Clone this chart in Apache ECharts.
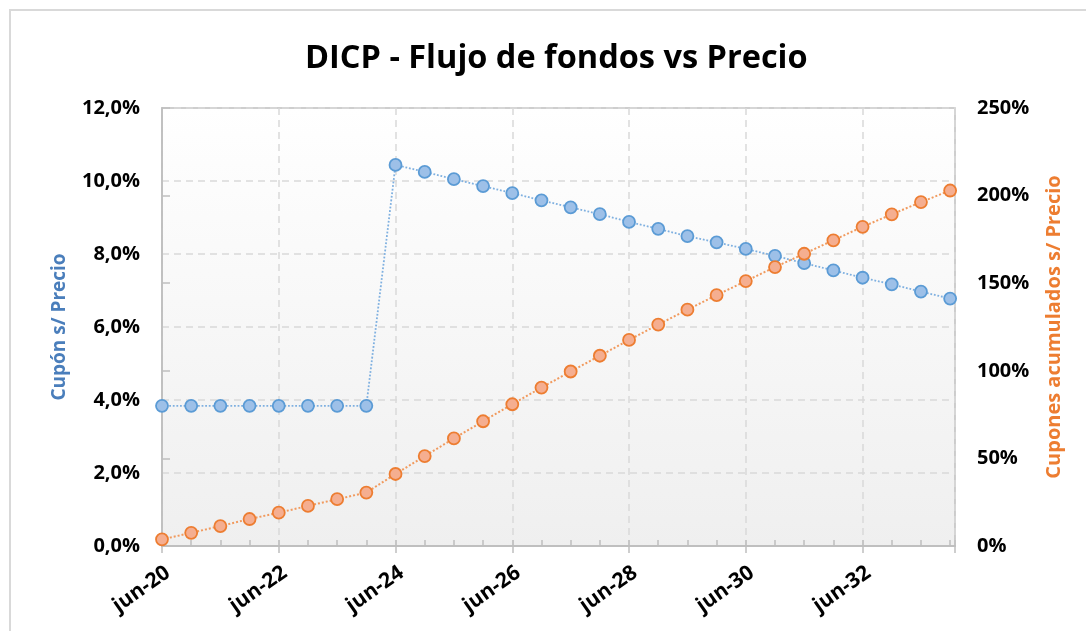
<!DOCTYPE html>
<html>
<head>
<meta charset="utf-8">
<script src="https://cdn.jsdelivr.net/npm/echarts@6/dist/echarts.min.js"></script>
<style>html,body{margin:0;padding:0;background:#fff}#c{width:1086px;height:631px}</style>
</head>
<body>
<div id="c"></div>
<script>
const fechas = ['jun-20','dic-20','jun-21','dic-21','jun-22','dic-22','jun-23','dic-23','jun-24','dic-24','jun-25','dic-25','jun-26','dic-26','jun-27','dic-27','jun-28','dic-28','jun-29','dic-29','jun-30','dic-30','jun-31','dic-31','jun-32','dic-32','jun-33','dic-33'];
const cuponSPrecio = [3.84,3.84,3.84,3.84,3.84,3.84,3.84,3.84,10.44,10.25,10.05,9.86,9.67,9.47,9.28,9.09,8.88,8.69,8.49,8.32,8.14,7.95,7.75,7.55,7.35,7.17,6.97,6.78];
const cuponesAcum = [3.8,7.5,11.4,15.4,19.0,22.9,26.7,30.5,41.1,51.3,61.4,71.2,80.9,90.4,99.6,108.6,117.6,126.4,134.9,143.2,151.2,159.2,166.8,174.5,182.2,189.3,196.3,202.9];
const leftTicks = {min:0, max:12, interval:2};
const rightTicks = {min:0, max:250, interval:50};

const MONTHS_PER_STEP = 6;
const FONT = 'Open Sans';
const toXY = arr => arr.map((v,i)=>[i*MONTHS_PER_STEP, v]);

const chart = echarts.init(document.getElementById('c'), null, {renderer:'canvas'});
chart.setOption({
  animation:false,
  backgroundColor:'#ffffff',
  textStyle:{fontFamily:FONT},
  graphic:[{type:'rect', shape:{x:10,y:10,width:1100,height:700}, style:{fill:'none', stroke:'#d9d9d9', lineWidth:2}, z:-1}],
  title:{text:'DICP - Flujo de fondos vs Precio', left:300, top:37,
    textStyle:{fontFamily:FONT, fontSize:32.5, fontWeight:'bold', color:'#000'}},
  grid:{left:162, top:108, right:131, bottom:85, show:true, borderColor:'#bfbfbf', borderWidth:1.5,
    backgroundColor:new echarts.graphic.LinearGradient(0,0,0,1,[{offset:0,color:'#ffffff'},{offset:1,color:'#efefef'}])},
  xAxis:[{
    type:'value', min:0, max:163, interval:24,
    axisLine:{show:true, lineStyle:{color:'#bfbfbf', width:2}},
    axisTick:{show:true, length:7, lineStyle:{color:'#bfbfbf', width:1.5}},
    splitLine:{show:true, lineStyle:{color:'#d9d9d9', type:[7,5], width:1.5}},
    axisLabel:{rotate:35, margin:16, verticalAlign:'top', fontFamily:FONT, fontSize:21, fontWeight:'bold', color:'#000',
      formatter:v=>fechas[v/MONTHS_PER_STEP] || ''}
  },{
    type:'value', min:0, max:163, interval:6, position:'bottom',
    axisLine:{show:false},
    axisTick:{show:true, inside:true, length:6, lineStyle:{color:'#bfbfbf', width:1.5}},
    axisLabel:{show:false}, splitLine:{show:false}
  }],
  yAxis:[{
    type:'value', min:leftTicks.min, max:leftTicks.max, interval:leftTicks.interval, position:'left',
    name:'Cupón s/ Precio', nameLocation:'middle', nameGap:93, nameRotate:90,
    nameTextStyle:{fontFamily:FONT, fontSize:19, fontWeight:'bold', color:'#4a7ebb'},
    axisLine:{show:true, lineStyle:{color:'#bfbfbf', width:1.5}},
    axisTick:{show:false},
    splitLine:{show:true, lineStyle:{color:'#d9d9d9', type:[7,5], width:1.5}},
    axisLabel:{margin:22, fontFamily:FONT, fontSize:20, fontWeight:'bold', color:'#000',
      formatter:v=>v.toFixed(1).replace('.',',')+'%'}
  },{
    type:'value', min:rightTicks.min, max:rightTicks.max, interval:rightTicks.interval, position:'right',
    name:'Cupones acumulados s/ Precio', nameLocation:'middle', nameGap:89, nameRotate:90,
    nameTextStyle:{fontFamily:FONT, fontSize:20, fontWeight:'bold', color:'#ed7d31'},
    axisLine:{show:true, lineStyle:{color:'#bfbfbf', width:1.5}},
    axisTick:{show:true, length:8, lineStyle:{color:'#bfbfbf', width:1.5}},
    splitLine:{show:false},
    axisLabel:{margin:22, fontFamily:FONT, fontSize:20, fontWeight:'bold', color:'#000',
      formatter:v=>v+'%'}
  }],
  series:[{
    name:'Cupón s/ Precio', type:'line', xAxisIndex:0, yAxisIndex:0, data:toXY(cuponSPrecio),
    symbol:'circle', symbolSize:12,
    lineStyle:{color:'#7fb0e0', width:1.8, type:'dotted'},
    itemStyle:{color:'#9dc0e8', borderColor:'#5b9bd5', borderWidth:1.8}, z:3
  },{
    name:'Cupones acumulados s/ Precio', type:'line', xAxisIndex:0, yAxisIndex:1, data:toXY(cuponesAcum),
    symbol:'circle', symbolSize:12,
    lineStyle:{color:'#f19a5e', width:2, type:'dotted'},
    itemStyle:{color:'#f5ae90', borderColor:'#ed7d31', borderWidth:1.8}, z:4
  }]
});
</script>
</body>
</html>
